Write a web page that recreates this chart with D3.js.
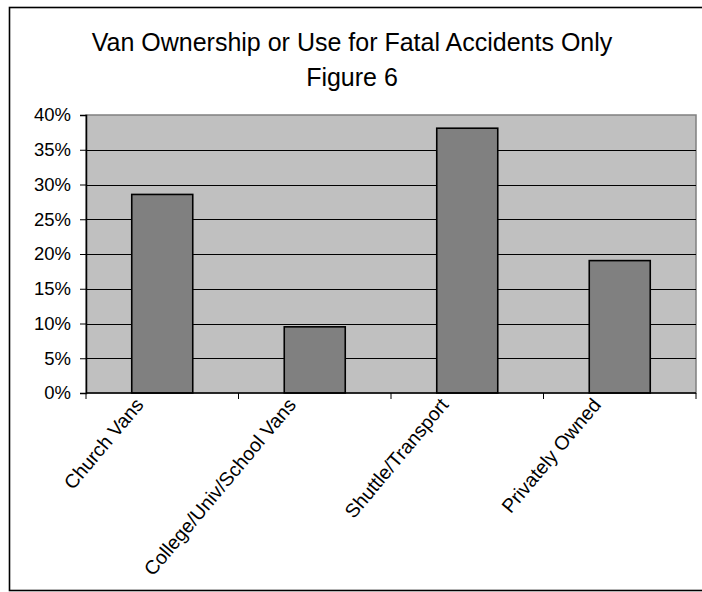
<!DOCTYPE html>
<html>
<head>
<meta charset="utf-8">
<script src="https://cdn.jsdelivr.net/npm/d3@7"></script>
<style>
  html, body { margin: 0; padding: 0; background: #fff; }
  svg { display: block; font-family: Arial, "Liberation Sans", sans-serif; }
</style>
</head>
<body>
<svg id="chart" width="702" height="592"></svg>
<script>
// Share of fatal van accidents by ownership / use (percent)
const categories = ["Church Vans", "College/Univ/School Vans", "Shuttle/Transport", "Privately Owned"];
const shares = [28.57, 9.52, 38.10, 19.05];
const yTicks = [0, 5, 10, 15, 20, 25, 30, 35, 40];
const titleLines = ["Van Ownership or Use for Fatal Accidents Only", "Figure 6"];

const svg = d3.select("#chart");
const W = 702, H = 592;
const plot = { left: 86, right: 696, top: 115, bottom: 393 };

svg.append("rect").attr("width", W).attr("height", H).attr("fill", "#fff");

// outer chart frame
svg.append("rect")
  .attr("x", 9.5).attr("y", 7.5)
  .attr("width", W).attr("height", 583)
  .attr("fill", "none").attr("stroke", "#000").attr("stroke-width", 1.6);

// title
svg.append("g").selectAll("text").data(titleLines).join("text")
  .attr("x", 352)
  .attr("y", (d, i) => 51 + i * 35)
  .attr("text-anchor", "middle")
  .attr("font-size", 25)
  .attr("fill", "#000")
  .text(d => d);

const y = d3.scaleLinear().domain([0, 40]).range([plot.bottom, plot.top]);
const x = d3.scaleBand().domain(categories)
  .range([plot.left, plot.right])
  .paddingInner(0.6).paddingOuter(0.3);

// plot area
svg.append("rect")
  .attr("x", plot.left).attr("y", plot.top)
  .attr("width", plot.right - plot.left).attr("height", plot.bottom - plot.top)
  .attr("fill", "#c0c0c0").attr("stroke", "#808080").attr("stroke-width", 1.5);

// gridlines
svg.append("g").selectAll("line").data(yTicks.filter(t => t > 0 && t < 40)).join("line")
  .attr("x1", plot.left).attr("x2", plot.right)
  .attr("y1", d => Math.round(y(d)) + 0.5).attr("y2", d => Math.round(y(d)) + 0.5)
  .attr("stroke", "#000").attr("stroke-width", 1);

// bars
svg.append("g").selectAll("rect").data(categories).join("rect")
  .attr("x", d => x(d))
  .attr("y", (d, i) => y(shares[i]))
  .attr("width", x.bandwidth())
  .attr("height", (d, i) => y(0) - y(shares[i]))
  .attr("fill", "#808080").attr("stroke", "#000").attr("stroke-width", 1.6);

// y axis
const yAxis = d3.axisLeft(y).tickValues(yTicks).tickSize(6).tickPadding(9)
  .tickFormat(d => d + "%");
const gy = svg.append("g").attr("transform", `translate(${plot.left},0)`).call(yAxis);
gy.select(".domain").attr("stroke", "#000").attr("stroke-width", 1.5);
gy.selectAll(".tick line").attr("stroke", "#000");
gy.selectAll(".tick text").attr("font-size", 18.5).attr("fill", "#000")
  .attr("font-family", "Arial, 'Liberation Sans', sans-serif");

// x axis: ticks on category boundaries
const bounds = d3.range(categories.length + 1).map(i => plot.left + i * (plot.right - plot.left) / categories.length);
svg.append("line")
  .attr("x1", plot.left).attr("x2", plot.right)
  .attr("y1", plot.bottom).attr("y2", plot.bottom)
  .attr("stroke", "#000").attr("stroke-width", 1.5);
svg.append("g").selectAll("line").data(bounds).join("line")
  .attr("x1", d => d).attr("x2", d => d)
  .attr("y1", plot.bottom).attr("y2", plot.bottom + 6)
  .attr("stroke", "#000");

// rotated category labels
svg.append("g").selectAll("text").data(categories).join("text")
  .attr("transform", d => `translate(${x(d) + x.bandwidth() / 2 - 23},${plot.bottom + 8}) rotate(-50)`)
  .attr("text-anchor", "end")
  .attr("dy", "0.35em")
  .attr("font-size", 19.5)
  .attr("fill", "#000")
  .text(d => d);
</script>
</body>
</html>
